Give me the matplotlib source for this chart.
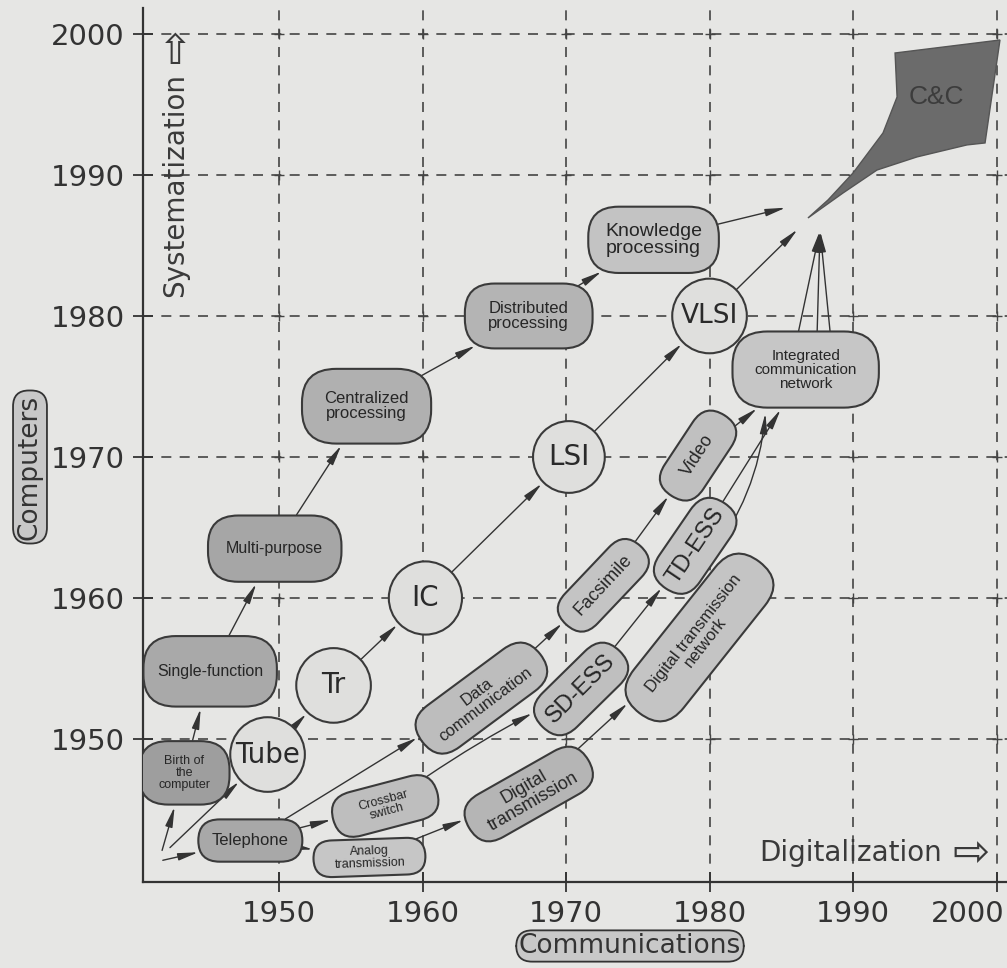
import matplotlib.pyplot as plt
import numpy as np
from matplotlib.patches import FancyBboxPatch, Ellipse, FancyArrowPatch, Polygon
from matplotlib.transforms import Affine2D, ScaledTranslation

#____datos (anios en los dos ejes)
year_ticks = [1950, 1960, 1970, 1980, 1990, 2000]

comp_labels = ["Birth of\nthe\ncomputer", "Single-function", "Multi-purpose",
               "Centralized\nprocessing", "Distributed\nprocessing", "Knowledge\nprocessing"]
comp_x = [1943.4, 1945.2, 1949.7, 1956.1, 1967.4, 1976.1]
comp_y = [1947.6, 1954.8, 1963.5, 1973.6, 1980.0, 1985.4]

dev_labels = ["Tube", "Tr", "IC", "LSI", "VLSI"]
dev_x = [1949.2, 1953.8, 1960.2, 1970.2, 1980.0]
dev_y = [1948.9, 1953.8, 1960.0, 1970.0, 1980.0]

comm_labels = ["Telephone", "Crossbar\nswitch", "Analog\ntransmission", "Data\ncommunication",
               "Digital\ntransmission", "SD-ESS", "Facsimile", "TD-ESS", "Video",
               "Digital transmission\nnetwork", "Integrated\ncommunication\nnetwork"]
comm_x = [1948.0, 1957.4, 1956.3, 1964.1, 1967.4, 1971.05, 1972.6, 1979.0, 1979.2, 1979.3, 1986.7]
comm_y = [1942.8, 1945.25, 1941.6, 1952.9, 1946.1, 1953.55, 1960.9, 1963.7, 1970.1, 1957.2, 1976.2]

# puntos de partida y de llegada de las flechas
start_comp = (1941.85, 1942.1)
start_dev = (1942.4, 1942.3)
start_tel = (1941.9, 1941.4)
end_knowledge = (1985.4, 1987.7)
end_vlsi = (1986.2, 1986.2)
end_icn = (1987.7, 1986.1)
icn_tops_x = [1986.2, 1987.5, 1988.4]
icn_tops_y = [1978.9, 1978.9, 1978.9]
dtn_curve = [(1979.8, 1962.6), (1983.9, 1973.2)]

# cometa C&C
kite_x = [1986.86, 1988.26, 1990.0, 1992.09, 1993.07, 1992.93, 2000.24, 1999.2,
          1997.94, 1994.46, 1991.67, 1989.3]
kite_y = [1986.95, 1988.23, 1990.14, 1992.98, 1995.53, 1998.65, 1999.57, 1992.27,
          1992.13, 1991.28, 1990.35, 1988.72]

#____estilos
bg = '#e6e6e4'
edge = '#3a3a3a'
comp_w = [6.3, 9.3, 9.3, 9.0, 8.9, 9.1]
comp_h = [4.5, 5.0, 4.7, 5.3, 4.6, 4.7]
comp_fc = ['#9e9e9e', '#a9a9a9', '#a6a6a6', '#b0b0b0', '#b4b4b4', '#c3c3c3']
comp_fs = [9, 11.5, 11.5, 12, 12, 14]
dev_r = [2.6, 2.6, 2.55, 2.5, 2.6]
dev_fs = [20, 20, 20, 20, 19]
comm_w = [7.25, 7.5, 7.8, 10.3, 9.6, 7.6, 7.6, 7.3, 6.8, 13.6, 10.2]
comm_h = [3.0, 3.2, 2.6, 3.7, 3.5, 3.4, 3.1, 3.4, 3.2, 4.4, 5.4]
comm_ang = [0, 15, 2, 37, 30, 45, 47, 56, 57, 52, 0]
comm_fc = ['#a8a8a8', '#bebebe', '#c6c6c6', '#bdbdbd', '#b5b5b5', '#bfbfbf',
           '#c4c4c4', '#c6c6c6', '#c0c0c0', '#c4c4c4', '#c6c6c6']
comm_fs = [12, 9, 9, 12, 13, 17, 13, 17, 13, 12, 11]

fig = plt.figure(figsize=(10.07, 9.68), dpi=100, facecolor=bg)
ax = fig.add_axes([143/1007, 86/968, 864/1007, 874/968], facecolor=bg)
ax.set_xlim(1940.52, 2000.73)
ax.set_ylim(1939.86, 2001.84)

for s in ['top', 'right']:
    ax.spines[s].set_visible(False)
for s in ['left', 'bottom']:
    ax.spines[s].set_color('#333333')
    ax.spines[s].set_linewidth(1.6)

ax.set_xticks(year_ticks)
ax.set_yticks(year_ticks)
ax.tick_params(direction='inout', length=14, width=1.3, color='#333333',
               labelsize=21, labelcolor='#333333', pad=6)
# la etiqueta 2000 del eje x queda corrida a la izquierda como en el original
last = ax.get_xticklabels()[-1]
last.set_horizontalalignment('right')
last.set_transform(last.get_transform() + ScaledTranslation(8/100, 0, fig.dpi_scale_trans))

ax.grid(True, linestyle=(0, (6, 5)), color='#444444', linewidth=1.2, zorder=1)
ax.set_axisbelow(True)
gx, gy = np.meshgrid(year_ticks, year_ticks)
ax.scatter(gx.ravel(), gy.ravel(), marker='+', s=60, color='#444444', linewidths=1.0, zorder=1)

# relacion de escala para que los circulos salgan redondos
sx = 864 / (2000.73 - 1940.52)
sy = 874 / (2001.84 - 1939.86)

def box(x, y, w, h, ang, fc, rnd):
    p = FancyBboxPatch((x - w/2, y - h/2), w, h,
                       boxstyle="round,pad=0,rounding_size=%f" % rnd,
                       fc=fc, ec=edge, lw=1.5, zorder=3)
    p.set_transform(Affine2D().rotate_deg_around(x, y, ang) + ax.transData)
    ax.add_patch(p)
    return p

nodes = {}
for i in range(len(comp_labels)):
    p = box(comp_x[i], comp_y[i], comp_w[i], comp_h[i], 0, comp_fc[i], comp_h[i]*0.45)
    ax.text(comp_x[i], comp_y[i], comp_labels[i], ha='center', va='center',
            fontsize=comp_fs[i], family='Liberation Sans', color='#262626',
            linespacing=1.0, zorder=4)
    nodes[comp_labels[i]] = p

for i in range(len(dev_labels)):
    p = Ellipse((dev_x[i], dev_y[i]), 2*dev_r[i], 2*dev_r[i]*sx/sy,
                fc='#dfdfdd', ec=edge, lw=1.5, zorder=3)
    ax.add_patch(p)
    ax.text(dev_x[i], dev_y[i], dev_labels[i], ha='center', va='center',
            fontsize=dev_fs[i], color='#2a2a2a', zorder=4)
    nodes[dev_labels[i]] = p

for i in range(len(comm_labels)):
    rnd = comm_h[i]*0.5 if i != 10 else comm_h[i]*0.45
    p = box(comm_x[i], comm_y[i], comm_w[i], comm_h[i], comm_ang[i], comm_fc[i], rnd)
    ax.text(comm_x[i], comm_y[i], comm_labels[i], ha='center', va='center',
            rotation=comm_ang[i], rotation_mode='anchor',
            fontsize=comm_fs[i], family='Liberation Sans', color='#262626',
            linespacing=1.0, zorder=4)
    nodes[comm_labels[i]] = p

def centre(name):
    if name in dev_labels:
        i = dev_labels.index(name)
        return (dev_x[i], dev_y[i])
    if name in comp_labels:
        i = comp_labels.index(name)
        return (comp_x[i], comp_y[i])
    i = comm_labels.index(name)
    return (comm_x[i], comm_y[i])

def link(a, b, rad=0.0):
    pa = nodes[a] if isinstance(a, str) else None
    pb = nodes[b] if isinstance(b, str) else None
    A = centre(a) if isinstance(a, str) else a
    B = centre(b) if isinstance(b, str) else b
    ar = FancyArrowPatch(A, B, patchA=pa, patchB=pb, shrinkA=0, shrinkB=1,
                         arrowstyle='-|>,head_length=1.1,head_width=0.2',
                         mutation_scale=11, connectionstyle='arc3,rad=%f' % rad,
                         color='#333333', lw=1.0, zorder=2)
    ax.add_patch(ar)

c = comp_labels
d = dev_labels
m = comm_labels
link(start_comp, c[0])
for i in range(len(c) - 1):
    link(c[i], c[i+1])
link(c[5], end_knowledge)

link(start_dev, d[0])
for i in range(len(d) - 1):
    link(d[i], d[i+1])
link(d[4], end_vlsi)

link(start_tel, m[0])
link(m[0], m[3])
link(m[0], m[1])
link(m[0], m[2])
link(m[1], m[5], rad=-0.05)
link(m[2], m[4])
link(m[3], m[6])
link(m[6], m[8])
link(m[5], m[7])
link(m[4], m[9])
link(m[8], m[10])
link(m[7], m[10])
link(dtn_curve[0], dtn_curve[1], rad=0.15)
for i in range(len(icn_tops_x)):
    link((icn_tops_x[i], icn_tops_y[i]), end_icn)

# cometa C&C
ax.add_patch(Polygon(np.column_stack([kite_x, kite_y]), closed=True,
                     fc='#6b6b6b', ec='#555555', lw=1.0, zorder=3))
ax.text(1995.8, 1995.5, 'C&C', fontsize=19, color='#3c3c3c',
        ha='center', va='center', family='Liberation Sans', zorder=4)

# textos de los ejes con sus flechas huecas
ax.text(1942.75, 1981.35, 'Systematization', rotation=90, ha='center',
        va='bottom', fontsize=20, color='#3a3a3a', zorder=4)
ax.text(1942.8, 1998.75, '\u21e7', ha='center', va='center',
        fontsize=30, color='#3a3a3a', zorder=4)
ax.text(1996.2, 1941.9, 'Digitalization', ha='right', va='center',
        fontsize=20, color='#3a3a3a', zorder=4)
ax.text(1998.2, 1941.9, '\u21e8', ha='center', va='center',
        fontsize=32, color='#3a3a3a', zorder=4)

fig.text(30/1007, 1 - 467/968, 'Computers', rotation=90, ha='center', va='center',
         fontsize=19, color='#333333',
         bbox=dict(boxstyle='round,pad=0.15,rounding_size=0.6', fc='#c8c8c8', ec='#333333', lw=1.3))
fig.text(630/1007, 1 - 946/968, 'Communications', ha='center', va='center',
         fontsize=19, color='#333333',
         bbox=dict(boxstyle='round,pad=0.1,rounding_size=0.6', fc='#c8c8c8', ec='#333333', lw=1.3))

fig.savefig('out.png', dpi=100, facecolor=bg)
